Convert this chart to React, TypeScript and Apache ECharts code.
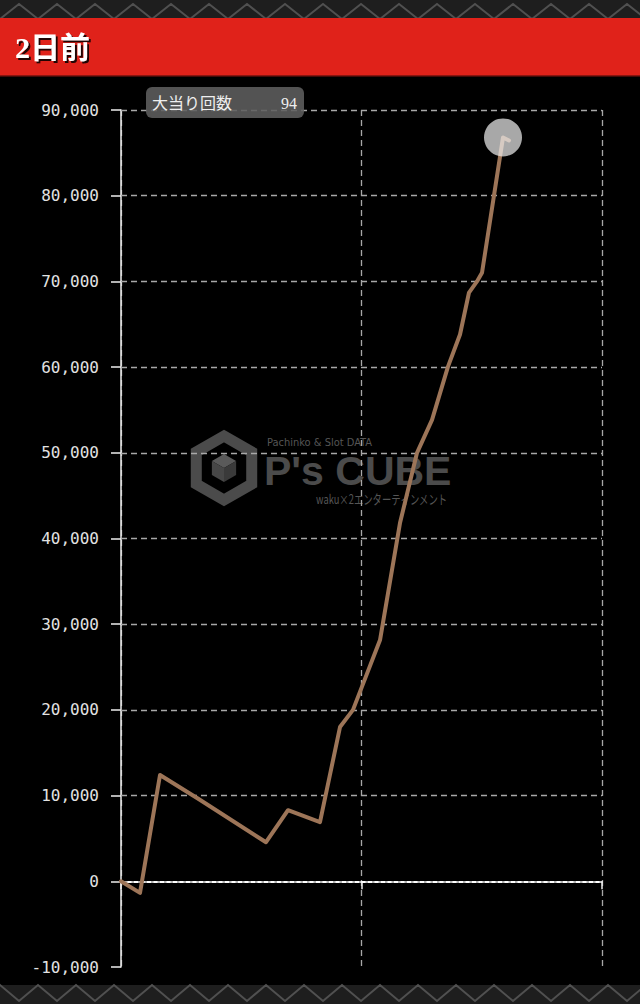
import React, { useEffect, useRef } from "react";
import * as echarts from "echarts";

// ---- data ----
const gameCounts = [0, 395, 811, 1622, 3015, 3472, 4137, 4553, 4823, 5385, 5800, 6154, 6466, 6798, 7048, 7235, 7401, 7505, 7942, 8067];
const difference = [0, -1350, 12400, 9580, 4560, 8300, 6900, 18000, 20000, 28150, 41800, 50000, 53850, 60050, 63800, 68700, 70000, 71000, 86800, 86450];
const highlightIndex = 18;
const yTicks = { min: -10000, max: 90000, interval: 10000 };
const xTicks = { min: 0, max: 10000, interval: 5000 };
const titleText = "2日前";
const tooltipLabel = "大当り回数";
const bonusCount = 94;

function zigzag(y1: number, y2: number, period: number): number[][] {
  const pts: number[][] = [];
  for (let x = -period; x <= 640 + period; x += period) {
    pts.push([x, y1]);
    pts.push([x + period / 2, y2]);
  }
  return pts;
}

function hexPoints(cx: number, cy: number, r: number): number[][] {
  const pts: number[][] = [];
  for (let i = 0; i < 6; i++) {
    const a = (Math.PI / 3) * i - Math.PI / 2;
    pts.push([cx + r * Math.cos(a), cy + r * Math.sin(a)]);
  }
  return pts;
}

export default function App() {
  const ref = useRef<HTMLDivElement>(null);

  useEffect(() => {
    document.body.style.margin = "0";
    document.body.style.background = "#000";
    if (!ref.current) return;
    const chart = echarts.init(ref.current, null, { renderer: "svg" });

    const lineData = gameCounts.map((g, i) => [g, difference[i]]);

    // horizontal grid lines at every tick above the minimum
    const gridLevels: number[] = [];
    for (let v = yTicks.min + yTicks.interval; v <= yTicks.max; v += yTicks.interval) gridLevels.push(v);
    const gridMarks = gridLevels.map((v) =>
      v === 0
        ? { yAxis: v, lineStyle: { color: "#ffffff", type: [4, 2.5], width: 2 } }
        : { yAxis: v, lineStyle: { color: "#a8a8a8", type: [6, 4], width: 1.3 } }
    );

    const cx = 224;
    const cy = 468;
    const wm = "#4b4b4b";
    const cubeR = 14;
    const c = [cx, cy];
    const h = hexPoints(cx, cy, cubeR);

    const option: any = {
      animation: false,
      backgroundColor: "#000",
      grid: { left: 121, right: 38, top: 110, bottom: 37 },
      xAxis: {
        type: "value",
        min: xTicks.min,
        max: xTicks.max,
        interval: xTicks.interval,
        axisLabel: { show: false },
        axisLine: { show: true, lineStyle: { color: "#eeeeee", width: 1.5 } },
        axisTick: { show: true, length: 8, lineStyle: { color: "#eeeeee", width: 1.5 } },
        splitLine: { show: true, lineStyle: { color: "#a8a8a8", type: [6, 4], width: 1.3 } },
      },
      yAxis: {
        type: "value",
        min: yTicks.min,
        max: yTicks.max,
        interval: yTicks.interval,
        axisLine: { show: true, lineStyle: { color: "#eeeeee", width: 1.5 } },
        axisTick: { show: true, length: 10, lineStyle: { color: "#eeeeee", width: 1.5 } },
        axisLabel: {
          color: "#e2e2e2",
          fontFamily: "DejaVu Sans Mono",
          fontSize: 16,
          margin: 22,
          formatter: (v: number) => v.toLocaleString("en-US"),
        },
        splitLine: { show: false },
      },
      series: [
        {
          type: "line",
          data: lineData,
          symbol: "none",
          z: 3,
          lineStyle: { color: "#9d7558", width: 4, join: "round", cap: "round" },
          markLine: {
            silent: true,
            symbol: "none",
            label: { show: false },
            data: gridMarks,
            z: 1,
          },
        },
        {
          type: "scatter",
          data: [[gameCounts[highlightIndex], difference[highlightIndex]]],
          symbol: "circle",
          symbolSize: 38,
          z: 5,
          itemStyle: { color: "rgba(238,238,238,0.88)" },
        },
      ],
      graphic: [
        // page background strips
        { type: "rect", z: -20, shape: { x: 0, y: 0, width: 640, height: 19 }, style: { fill: "#1e1e1e" } },
        { type: "polyline", z: -19, shape: { points: zigzag(19, 4, 38) }, style: { stroke: "#505050", lineWidth: 2, fill: null } },
        { type: "rect", z: -20, shape: { x: 0, y: 985, width: 640, height: 19 }, style: { fill: "#1e1e1e" } },
        { type: "polyline", z: -19, shape: { points: zigzag(985, 1001, 38) }, style: { stroke: "#505050", lineWidth: 2, fill: null } },
        // header band
        { type: "rect", z: 10, shape: { x: 0, y: 18, width: 640, height: 58 }, style: { fill: "#e0221a" } },
        { type: "rect", z: 10, shape: { x: 0, y: 75, width: 640, height: 1.5 }, style: { fill: "#8a1510" } },
        {
          type: "text",
          z: 11,
          x: 15,
          y: 47,
          style: {
            text: titleText,
            fill: "#ffffff",
            font: "bold 30px 'Liberation Serif', 'Noto Sans CJK JP', serif",
            verticalAlign: "middle",
            textShadowColor: "rgba(0,0,0,0.85)",
            textShadowOffsetX: 2,
            textShadowOffsetY: 2,
            textShadowBlur: 1,
          },
        },
        // watermark
        { type: "polygon", z: -5, shape: { points: hexPoints(cx, cy, 32) }, style: { stroke: wm, lineWidth: 11, fill: null, lineJoin: "miter" } },
        { type: "polygon", z: -5, shape: { points: [h[5], h[0], h[1], c] }, style: { fill: "#5a5a5a" } },
        { type: "polygon", z: -5, shape: { points: [h[5], c, h[3], h[4]] }, style: { fill: "#474747" } },
        { type: "polygon", z: -5, shape: { points: [c, h[1], h[2], h[3]] }, style: { fill: "#3a3a3a" } },
        {
          type: "text",
          z: -5,
          x: 267,
          y: 442,
          style: { text: "Pachinko & Slot DATA", fill: "#555555", font: "11px 'DejaVu Sans Condensed', 'DejaVu Sans', sans-serif", verticalAlign: "middle" },
        },
        {
          type: "text",
          z: -5,
          x: 264,
          y: 471,
          style: { text: "P's CUBE", fill: wm, font: "bold 41px 'Liberation Sans', sans-serif", verticalAlign: "middle" },
        },
        {
          type: "text",
          z: -5,
          x: 316,
          y: 498,
          scaleX: 0.72,
          style: { text: "waku×2エンターテインメント", fill: "#555555", font: "13px 'Noto Sans CJK JP', sans-serif", verticalAlign: "middle" },
        },
        // tooltip-like label
        { type: "rect", z: 20, shape: { x: 146, y: 87, width: 158, height: 31, r: 6 }, style: { fill: "rgba(95,95,95,0.88)" } },
        {
          type: "text",
          z: 21,
          x: 152,
          y: 103,
          style: { text: tooltipLabel, fill: "#eeeeee", font: "16px 'Liberation Serif', 'Noto Sans CJK JP', serif", verticalAlign: "middle" },
        },
        {
          type: "text",
          z: 21,
          x: 297,
          y: 103,
          style: { text: String(bonusCount), fill: "#eeeeee", font: "16px 'Liberation Serif', serif", verticalAlign: "middle", align: "right" },
        },
      ],
    };

    chart.setOption(option);
    return () => chart.dispose();
  }, []);

  return <div ref={ref} style={{ width: 640, height: 1004 }} />;
}
